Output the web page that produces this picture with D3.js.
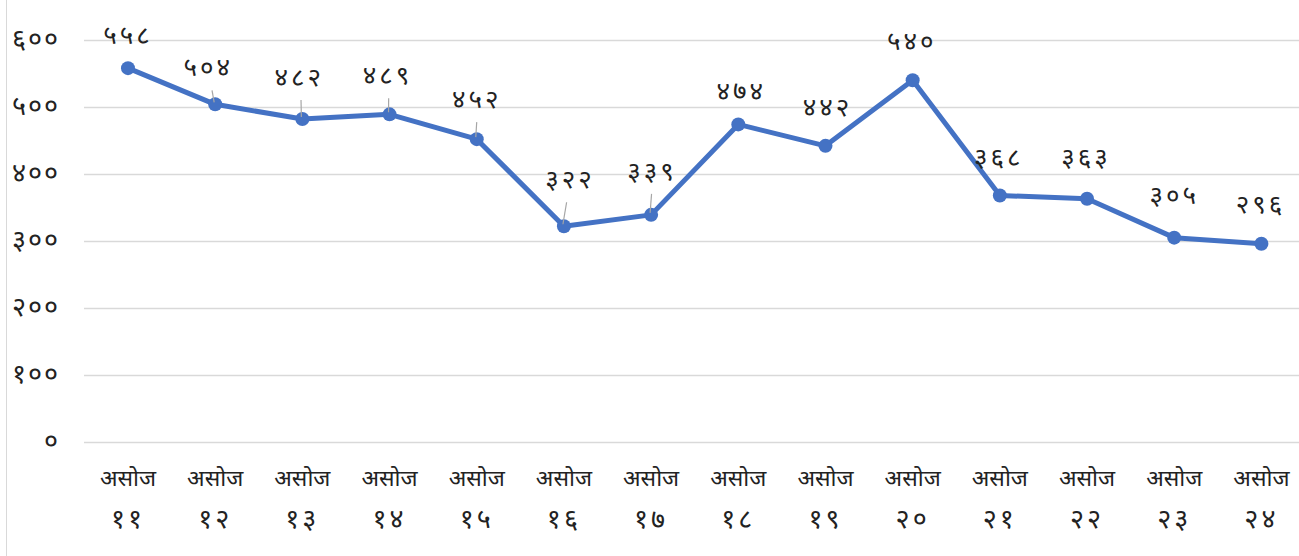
<html>
<head>
<meta charset="utf-8">
<script src="https://d3js.org/d3.v7.min.js"></script>
<style>
  body { margin: 0; background: #fff; }
  text { font-family: "Noto Sans", "Noto Sans Devanagari", "DejaVu Sans", sans-serif; fill: #222; }
</style>
</head>
<body>
</body>
<script>
    // data
    let months = ["असोज", "असोज", "असोज", "असोज", "असोज", "असोज", "असोज", "असोज", "असोज", "असोज", "असोज", "असोज", "असोज", "असोज"];
    let days = ["११", "१२", "१३", "१४", "१५", "१६", "१७", "१८", "१९", "२०", "२१", "२२", "२३", "२४"];
    let values = [558, 504, 482, 489, 452, 322, 339, 474, 442, 540, 368, 363, 305, 296];
    let yTicks = [0, 100, 200, 300, 400, 500, 600];

    // label placement (offset from point), leader lines where Excel moved the label
    let labelDx = [0, -7, -3, -2, 0, 6, 1, 3, 2, -1, -1, -1, 0, -1];
    let labelDy = [-32, -36, -41, -38, -39, -46, -43, -32, -38, -38, -37, -41, -41, -38];
    let leader = [false, true, true, true, true, true, true, false, false, false, false, false, false, false];

    let deva = "०१२३४५६७८९";
    function toDeva(n) {
        return String(n).split("").map(c => deva[+c]).join("");
    }

    let W = 1299, H = 556;
    let svg = d3.select("body").append("svg")
        .attr("width", W)
        .attr("height", H);

    // chart frame
    svg.append("line")
        .attr("x1", 6.5).attr("x2", 6.5)
        .attr("y1", 0).attr("y2", H)
        .attr("stroke", "#d9d9d9");

    let x = d3.scaleBand()
        .domain(d3.range(values.length))
        .range([84.4, 1305]);

    let y = d3.scaleLinear()
        .domain([0, 600])
        .range([442, 40]);

    // gridlines
    svg.append("g")
        .selectAll("line")
        .data(yTicks)
        .join("line")
        .attr("x1", 84)
        .attr("x2", W)
        .attr("y1", d => Math.round(y(d)) + 0.5)
        .attr("y2", d => Math.round(y(d)) + 0.5)
        .attr("stroke", "#d9d9d9")
        .attr("stroke-width", 1.5);

    // y tick labels
    svg.append("g")
        .selectAll("text")
        .data(yTicks)
        .join("text")
        .attr("x", 60)
        .attr("y", d => y(d))
        .attr("dy", "0.3em")
        .attr("text-anchor", "end")
        .style("font-size", "27px")
        .style("letter-spacing", "2px")
        .text(d => toDeva(d));

    // x labels
    let xl = svg.append("g")
        .selectAll("text")
        .data(values.map((v, i) => i))
        .join("text")
        .attr("x", i => x(i) + x.bandwidth() / 2)
        .attr("text-anchor", "middle")
        .style("font-size", "23px");
    xl.append("tspan")
        .attr("x", i => x(i) + x.bandwidth() / 2)
        .attr("y", 486)
        .text(i => months[i]);
    xl.append("tspan")
        .attr("x", i => x(i) + x.bandwidth() / 2)
        .attr("y", 528)
        .style("font-size", "27px")
        .style("letter-spacing", "3px")
        .text(i => days[i]);

    let cx = i => x(i) + x.bandwidth() / 2;

    // line
    let line = d3.line()
        .x((d, i) => cx(i))
        .y(d => y(d));

    svg.append("path")
        .datum(values)
        .attr("d", line)
        .attr("fill", "none")
        .attr("stroke", "#4472c4")
        .attr("stroke-width", 5)
        .attr("stroke-linejoin", "round");

    svg.append("g")
        .selectAll("circle")
        .data(values)
        .join("circle")
        .attr("cx", (d, i) => cx(i))
        .attr("cy", d => y(d))
        .attr("r", 7)
        .attr("fill", "#4472c4");

    // leader lines
    svg.append("g")
        .selectAll("line")
        .data(values.map((v, i) => i).filter(i => leader[i]))
        .join("line")
        .attr("x1", i => cx(i) + labelDx[i] * 0.45)
        .attr("y1", i => y(values[i]) + labelDy[i] + 22)
        .attr("x2", i => cx(i) - 1)
        .attr("y2", i => y(values[i]) - 2)
        .attr("stroke", "#a6a6a6")
        .attr("stroke-width", 1.2);

    // data labels
    svg.append("g")
        .selectAll("text")
        .data(values)
        .join("text")
        .attr("x", (d, i) => cx(i) + labelDx[i])
        .attr("y", (d, i) => y(d) + labelDy[i])
        .attr("dy", "0.3em")
        .attr("text-anchor", "middle")
        .style("font-size", "26px")
        .style("letter-spacing", "3px")
        .text(d => toDeva(d));
</script>
</html>
